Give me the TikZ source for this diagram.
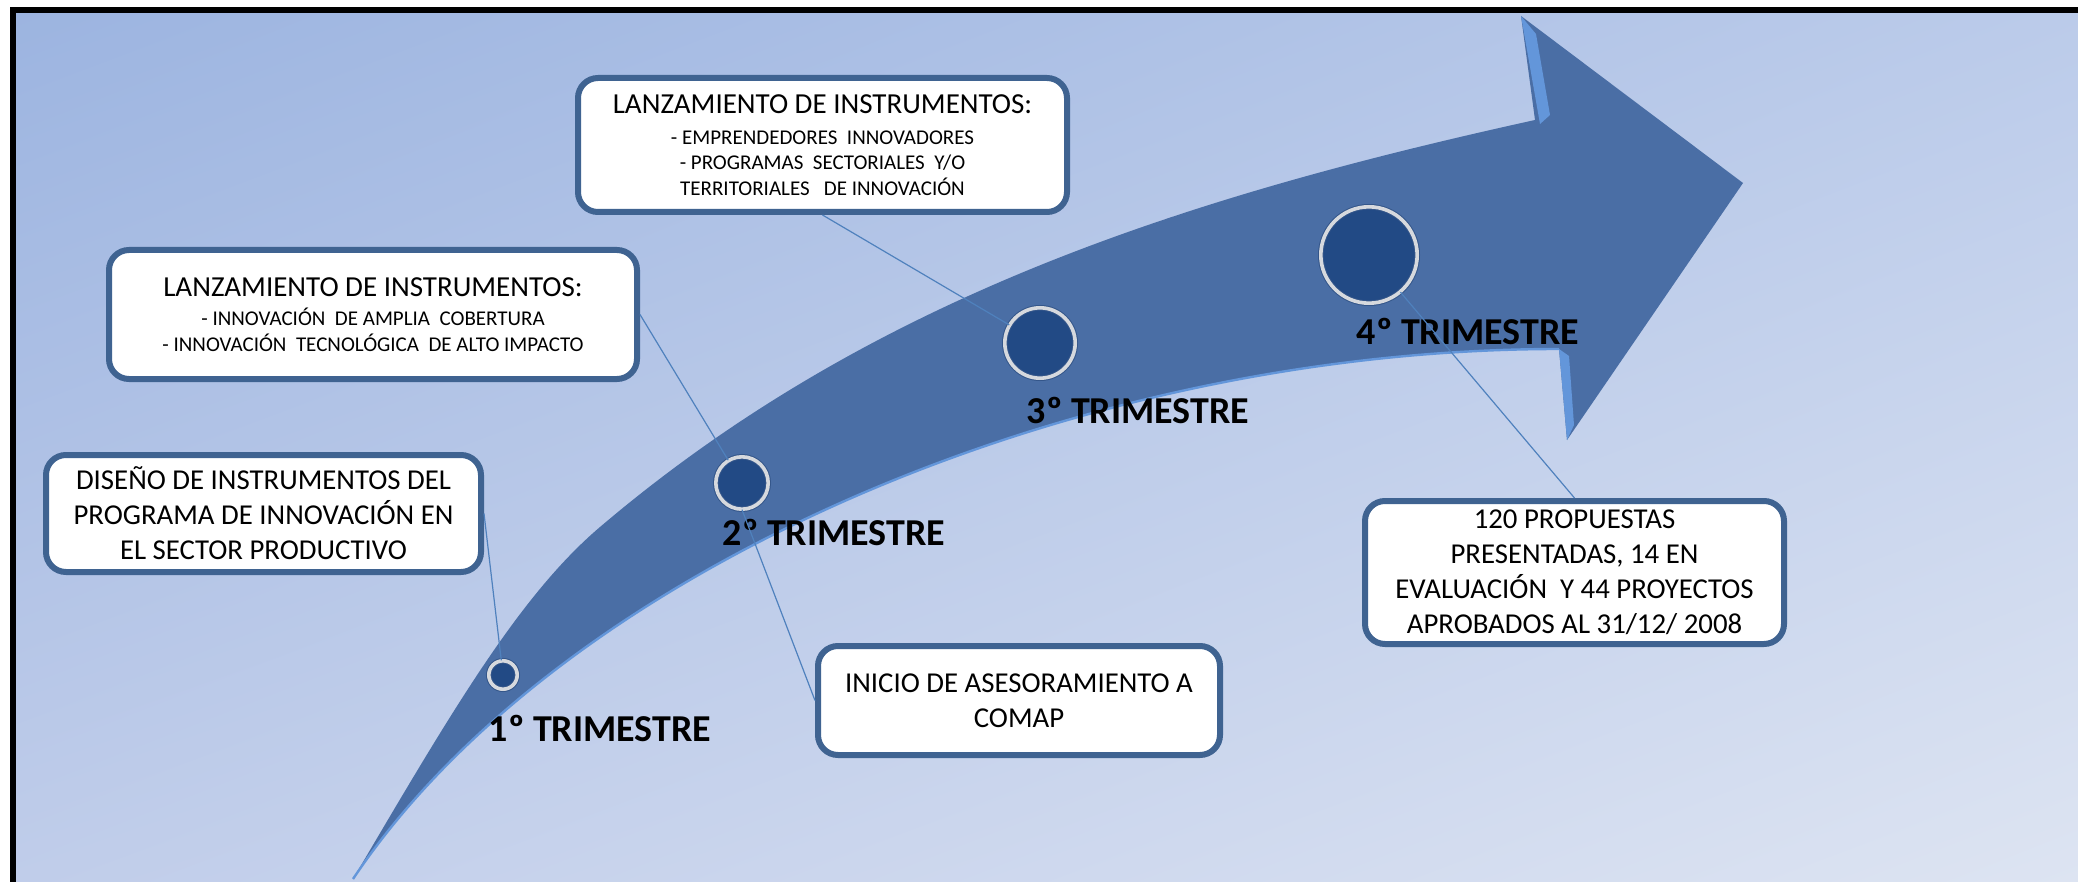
\documentclass[tikz,border=0pt]{standalone}
\usepackage{fontspec}
\setmainfont{Carlito}
\usetikzlibrary{calc,shadings}

\definecolor{bgUL}{HTML}{9CB4E0}
\definecolor{bgUR}{HTML}{BBCBEA}
\definecolor{bgLL}{HTML}{C0CDEA}
\definecolor{bgLR}{HTML}{DDE4F2}
\definecolor{arrowblue}{HTML}{4A6EA5}
\definecolor{arrowlight}{HTML}{6396DA}
\definecolor{dotblue}{HTML}{224A85}
\definecolor{ringsilver}{HTML}{D6D9DE}
\definecolor{ringdark}{HTML}{34568A}
\definecolor{boxblue}{HTML}{3F6391}
\definecolor{linkblue}{HTML}{4F81BD}

\begin{document}
\begin{tikzpicture}[
  x=0.5pt, y=-0.5pt,
  note/.style={draw=boxblue, line width=3pt, fill=white, rounded corners=10pt,
    align=center, inner sep=0pt, font=\fontsize{14.4}{17.5}\selectfont},
  launch/.style={note, font=\fontsize{10.5}{12.75}\selectfont},
  stage/.style={circle, fill=dotblue, draw=ringdark, double=ringsilver,
    line width=0.5pt, double distance=1.8pt, inner sep=0pt},
  tri/.style={font=\bfseries\fontsize{19}{21}\selectfont, inner sep=0pt},
  link/.style={draw=linkblue, line width=0.6pt},
]
\useasboundingbox (0,0) rectangle (2078,882);

% Background and frame
\fill[white] (0,0) rectangle (2078,882);
\shade[upper left=bgUL, upper right=bgUR, lower left=bgLL, lower right=bgLR]
  (13,10) rectangle (2078,882);
\draw[line width=3pt] (13,882) -- (13,10) -- (2078,10);

% Curved arrow
\fill[arrowblue] (353,879) .. controls (453,709) and (520,595) .. (600,527)
  .. controls (870,297.5) and (1185,197) .. (1535,120)
  -- (1521,16) -- (1743,183) -- (1567,440) -- (1559,349)
  .. controls (1059,349) and (553,579) .. (353,879) -- cycle;
\draw[arrowlight, line width=1.2pt] (1559,349) .. controls (1059,349) and (553,579) .. (353,879);
\fill[arrowlight] (1521,16) -- (1540,124) -- (1550,115) -- (1536,34) -- cycle;
\fill[arrowlight] (1559,349) -- (1567,440) -- (1574,425) -- (1569,356) -- cycle;

% Quarter marks
\node[stage, minimum size=14.2pt] (c1) at (503,675) {};
\node[stage, minimum size=26.2pt] (c2) at (742,483) {};
\node[stage, minimum size=35.2pt] (c3) at (1040,343) {};
\node[stage, minimum size=48.2pt] (c4) at (1369,255) {};

\node[tri] (t1) at (600,728)  {1º TRIMESTRE};
\node[tri] (t2) at (834,532)  {2º TRIMESTRE};
\node[tri] (t3) at (1138,410) {3º TRIMESTRE};
\node[tri] (t4) at (1468,331) {4º TRIMESTRE};

% Notes
\node[note, minimum width=217.5pt, minimum height=58.5pt] (disenio) at (263.5,513.5)
  {DISEÑO DE INSTRUMENTOS DEL\\PROGRAMA DE INNOVACIÓN EN\\EL SECTOR PRODUCTIVO};
\node[launch, minimum width=264pt, minimum height=64.5pt] (lanz1) at (373,314.5)
  {{\fontsize{14.5}{16}\selectfont LANZAMIENTO DE INSTRUMENTOS:}\\[1.75pt]
   - INNOVACIÓN~~DE AMPLIA~~COBERTURA\\
   - INNOVACIÓN~~TECNOLÓGICA~~DE ALTO IMPACTO};
\node[launch, minimum width=244.5pt, minimum height=67pt] (lanz2) at (822.5,145)
  {{\fontsize{14.5}{16}\selectfont LANZAMIENTO DE INSTRUMENTOS:}\\[2.75pt]
   - EMPRENDEDORES~~INNOVADORES\\
   - PROGRAMAS~~SECTORIALES~~Y/O\\
   TERRITORIALES~~~DE INNOVACIÓN};
\node[note, minimum width=201pt, minimum height=54.5pt] (inicio) at (1019,700.5)
  {INICIO DE ASESORAMIENTO A\\COMAP};
\node[note, minimum width=209.5pt, minimum height=71.5pt] (res) at (1574.5,572.5)
  {120 PROPUESTAS\\PRESENTADAS, 14 EN\\EVALUACIÓN~~Y 44 PROYECTOS\\APROBADOS AL 31/12/ 2008};

% Connectors
\draw[link] (disenio.east) -- (c1);
\draw[link] (lanz1.east) -- (c2);
\draw[link] (c2.south) -- (inicio.west);
\draw[link] (lanz2.south) -- (c3);
\draw[link] (c4) -- (res.north);

\end{tikzpicture}
\end{document}
